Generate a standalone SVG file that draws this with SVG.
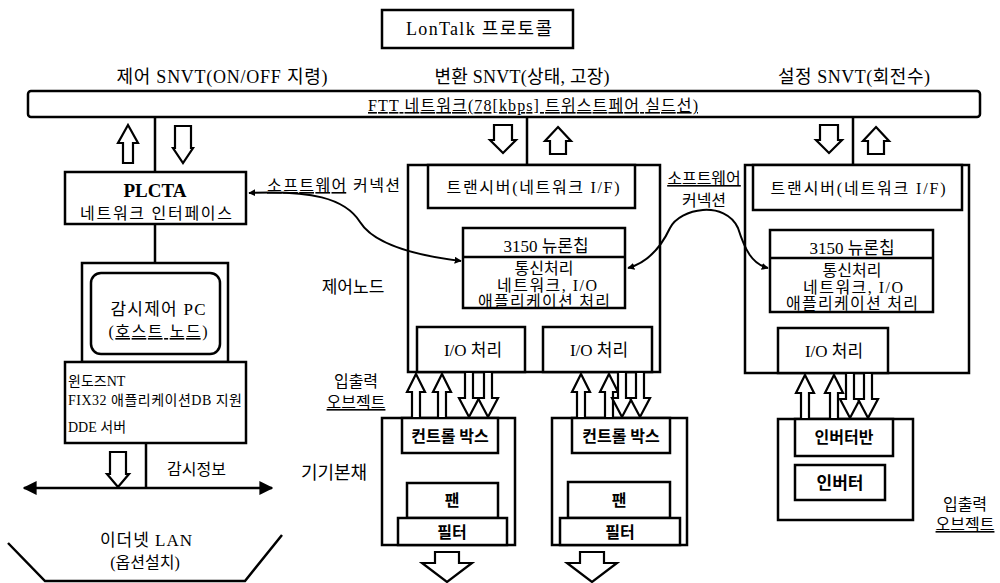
<svg xmlns="http://www.w3.org/2000/svg" width="1000" height="583" viewBox="0 0 1000 583">
<style>
text{font-family:"Liberation Serif","Noto Sans CJK KR",serif;font-size:16px;fill:#000}
.c{text-anchor:middle}
.b{font-weight:bold}
.u{text-decoration:underline}
.box{fill:#fff;stroke:#000;stroke-width:2.5}
.ln{stroke:#000;stroke-width:2.5;fill:none}
.ha{fill:#fff;stroke:#000;stroke-width:2.2;stroke-linejoin:miter}
.cv{stroke:#000;stroke-width:2;fill:none}
.s14{font-size:14px}
.s17{font-size:17px}
.s18{font-size:18px}
</style>
<defs>
<marker id="ah" viewBox="0 0 10 10" refX="9" refY="5" markerWidth="7" markerHeight="7" orient="auto-start-reverse" markerUnits="userSpaceOnUse">
<path d="M0 0 L10 5 L0 10 Z" fill="#000"/>
</marker>
<marker id="big" viewBox="0 0 10 10" refX="9" refY="5" markerWidth="14" markerHeight="14" orient="auto-start-reverse" markerUnits="userSpaceOnUse">
<path d="M0 0 L10 5 L0 10 Z" fill="#000"/>
</marker>
</defs>

<g id="title">
<rect class="box" x="382" y="10" width="191" height="38"/>
<text class="c s18" x="479" y="35" textLength="146" lengthAdjust="spacing">LonTalk 프로토콜</text>
</g>

<g id="snvt-labels">
<text class="c s18" x="222" y="83" textLength="211" lengthAdjust="spacing">제어 SNVT(ON/OFF 지령)</text>
<text class="c s18" x="522" y="83" textLength="175" lengthAdjust="spacing">변환 SNVT(상태, 고장)</text>
<text class="c s18" x="854" y="83" textLength="152" lengthAdjust="spacing">설정 SNVT(회전수)</text>
</g>

<g id="bus">
<rect class="box" x="28" y="91" width="952" height="26" rx="3"/>
<text class="c u" x="533" y="111" textLength="330" lengthAdjust="spacing">FTT 네트워크(78[kbps] 트위스트페어 실드선)</text>
</g>

<g id="sw-labels">
<text x="267" y="191" textLength="133" lengthAdjust="spacing"><tspan class="u">소프트웨어</tspan> 커넥션</text>
<text class="c" x="704" y="184"><tspan class="u">소프트웨어</tspan></text>
<text class="c" x="704" y="206">커넥션</text>
</g>

<g id="plcta">
<rect class="box" x="65" y="172" width="181" height="52"/>
<text class="c b" x="155" y="197" style="font-size:19px">PLCTA</text>
<text class="c" x="156" y="219" textLength="152" lengthAdjust="spacing">네트워크 인터페이스</text>
</g>

<g id="pc">
<rect class="box" x="82" y="263" width="146" height="99"/>
<rect class="box" x="91" y="273" width="129" height="81" rx="10"/>
<text class="c s17" x="158" y="315" textLength="95" lengthAdjust="spacing">감시제어 PC</text>
<text class="c" x="158" y="337" textLength="99" lengthAdjust="spacing">(<tspan class="u">호스트 노드</tspan>)</text>
</g>

<g id="host-sw">
<rect class="box" x="65" y="362" width="181" height="81"/>
<text class="s14" x="68" y="386">윈도즈NT</text>
<text class="s14" x="68" y="405" textLength="174" lengthAdjust="spacing">FIX32 애플리케이션DB 지원</text>
<text class="s14" x="68" y="432">DDE 서버</text>
</g>

<g id="monitor-info">
<text x="167" y="475">감시정보</text>
</g>

<g id="ethernet">
<path class="ln" d="M8 543 L45 581 L245 581 L282 535"/>
<text class="c s17" x="146" y="546" textLength="92" lengthAdjust="spacing">이더넷 LAN</text>
<text class="c" x="145" y="568">(옵션설치)</text>
</g>

<g id="side-labels">
<text class="c s17" x="353" y="293">제어노드</text>
<text class="c" x="356" y="387">입출력</text>
<text class="c u" x="356" y="408">오브젝트</text>
<text class="c s18" x="334" y="479">기기본채</text>
<text class="c" x="965" y="510">입출력</text>
<text class="c u" x="965" y="530">오브젝트</text>
</g>

<g id="node1">
<rect class="box" x="408" y="165" width="252" height="207"/>
<rect class="box" x="428" y="165" width="207" height="43"/>
<text class="c" x="533" y="193" textLength="173" lengthAdjust="spacing">트랜시버(네트워크 I/F)</text>
<rect class="box" x="463" y="228" width="162" height="80"/>
<line class="ln" x1="463" y1="257" x2="625" y2="257"/>
<text class="c s17" x="546" y="252">3150 뉴론칩</text>
<text class="c" x="544" y="274">통신처리</text>
<text class="c" x="547" y="291" textLength="100" lengthAdjust="spacing">네트워크, I/O</text>
<text class="c" x="544" y="307" textLength="132" lengthAdjust="spacing">애플리케이션 처리</text>
<rect class="box" x="417" y="327" width="108" height="45"/>
<text class="c s17" x="473" y="356">I/O 처리</text>
<rect class="box" x="543" y="327" width="109" height="45"/>
<text class="c s17" x="599" y="356">I/O 처리</text>
</g>

<g id="node2">
<rect class="box" x="745" y="165" width="224" height="208"/>
<rect class="box" x="753" y="165" width="209" height="45"/>
<text class="c" x="858" y="194" textLength="175" lengthAdjust="spacing">트랜시버(네트워크 I/F)</text>
<rect class="box" x="770" y="230" width="163" height="82"/>
<line class="ln" x1="770" y1="258" x2="933" y2="258"/>
<text class="c s17" x="852" y="254">3150 뉴론칩</text>
<text class="c" x="852" y="276">통신처리</text>
<text class="c" x="853" y="293" textLength="100" lengthAdjust="spacing">네트워크, I/O</text>
<text class="c" x="852" y="309" textLength="132" lengthAdjust="spacing">애플리케이션 처리</text>
<rect class="box" x="778" y="328" width="110" height="45"/>
<text class="c s17" x="834" y="357">I/O 처리</text>
</g>

<g id="equip1">
<rect class="box" x="382" y="418" width="133" height="127"/>
<rect class="box" x="402" y="418" width="96" height="35"/>
<text class="c b" x="450" y="442">컨트롤 박스</text>
<rect class="box" x="407" y="483" width="91" height="35"/>
<text class="c b" x="452" y="506">팬</text>
<rect class="box" x="398" y="518" width="109" height="27"/>
<text class="c b" x="452" y="538">필터</text>
</g>

<g id="equip2">
<rect class="box" x="552" y="418" width="135" height="127"/>
<rect class="box" x="572" y="418" width="98" height="35"/>
<text class="c b" x="621" y="442">컨트롤 박스</text>
<rect class="box" x="568" y="482" width="102" height="36"/>
<text class="c b" x="619" y="506">팬</text>
<rect class="box" x="560" y="518" width="120" height="27"/>
<text class="c b" x="620" y="538">필터</text>
</g>

<g id="equip3">
<rect class="box" x="778" y="419" width="135" height="101"/>
<rect class="box" x="795" y="419" width="98" height="37"/>
<text class="c b" x="844" y="443">인버터반</text>
<rect class="box" x="795" y="465" width="90" height="35"/>
<text class="c b s17" x="840" y="489">인버터</text>
</g>

<g id="connectors">
<line class="ln" x1="155" y1="117" x2="155" y2="172"/>
<line class="ln" x1="155" y1="224" x2="155" y2="263"/>
<line class="ln" x1="146" y1="443" x2="146" y2="488"/>
<line class="ln" x1="527" y1="117" x2="527" y2="165"/>
<line class="ln" x1="853" y1="117" x2="853" y2="165"/>
<line class="ln" x1="24" y1="488" x2="272" y2="488" marker-start="url(#big)" marker-end="url(#big)"/>
<path class="cv" d="M249 193 C310 190,345 198,360 222 C375 246,420 256,461 261" marker-start="url(#ah)" marker-end="url(#ah)"/>
<path class="cv" d="M628 268 C650 262,662 245,670 228 C680 208,725 200,738 228 C745 250,752 264,768 268" marker-start="url(#ah)" marker-end="url(#ah)"/>
<path class="ha" d="M128 125 L138 143 L133 143 L133 163 L123 163 L123 143 L118 143 Z"/>
<path class="ha" d="M175 126 L191 126 L191 148 L193 148 L183 163 L173 148 L175 148 Z"/>
<path class="ha" d="M494 125 L512 125 L512 140 L516 140 L503 153 L490 140 L494 140 Z"/>
<path class="ha" d="M558 127 L571 141 L566 141 L566 154 L550 154 L550 141 L545 141 Z"/>
<path class="ha" d="M820 125 L838 125 L838 140 L842 140 L829 153 L816 140 L820 140 Z"/>
<path class="ha" d="M876 127 L889 141 L884 141 L884 154 L868 154 L868 141 L863 141 Z"/>
<path class="ha" d="M110 452 L126 452 L126 474 L129 474 L118 487 L107 474 L110 474 Z"/>
<path class="ha" d="M416 374 L425 392 L420 392 L420 418 L412 418 L412 392 L407 392 Z"/>
<path class="ha" d="M442 374 L451 392 L446 392 L446 418 L438 418 L438 392 L433 392 Z"/>
<path class="ha" d="M465 372 L473 372 L473 398 L479 398 L469 417 L459 398 L465 398 Z"/>
<path class="ha" d="M484 372 L492 372 L492 398 L498 398 L488 417 L478 398 L484 398 Z"/>
<path class="ha" d="M581 374 L590 392 L585 392 L585 418 L577 418 L577 392 L572 392 Z"/>
<path class="ha" d="M609 374 L618 392 L613 392 L613 418 L605 418 L605 392 L600 392 Z"/>
<path class="ha" d="M618 372 L626 372 L626 398 L632 398 L622 417 L612 398 L618 398 Z"/>
<path class="ha" d="M636 372 L644 372 L644 398 L650 398 L640 417 L630 398 L636 398 Z"/>
<path class="ha" d="M805 375 L814 393 L809 393 L809 419 L801 419 L801 393 L796 393 Z"/>
<path class="ha" d="M834 375 L843 393 L838 393 L838 419 L830 419 L830 393 L825 393 Z"/>
<path class="ha" d="M846 373 L854 373 L854 399 L860 399 L850 418 L840 399 L846 399 Z"/>
<path class="ha" d="M864 373 L872 373 L872 399 L878 399 L868 418 L858 399 L864 399 Z"/>
<path class="ha" d="M435 552 L459 552 L459 563 L472 563 L447 582 L422 563 L435 563 Z"/>
<path class="ha" d="M580 552 L604 552 L604 563 L617 563 L592 582 L567 563 L580 563 Z"/>
</g>
</svg>
